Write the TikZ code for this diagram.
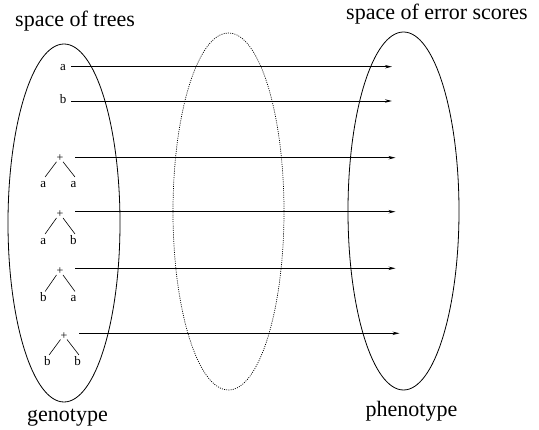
\documentclass[tikz,border=0pt]{standalone}
\usepackage{fontspec}
\setmainfont{Liberation Serif}
\usetikzlibrary{arrows.meta}
\begin{document}
\begin{tikzpicture}[x=1pt,y=-1pt,
  big/.style={font=\fontsize{22}{22}\selectfont, inner sep=0pt},
  leaf/.style={font=\fontsize{13}{13}\selectfont, inner sep=0pt, anchor=base},
  plus/.style={font=\fontsize{12}{12}\selectfont, inner sep=0pt},
  edge/.style={line width=0.6pt},
  map/.style={line width=0.8pt, -{Stealth[length=7pt,width=3.4pt]}},
  space/.style={draw, line width=0.8pt}]
\useasboundingbox (0,0) rectangle (539,430);
% spaces
\draw[space] (64,223) ellipse [x radius=56, y radius=179];
\draw[space, dash pattern=on 1pt off 1.2pt, line width=0.7pt] (228.5,211.5) ellipse [x radius=55.5, y radius=178.5];
\draw[space] (403.5,211) ellipse [x radius=55.5, y radius=179];
% labels
\node[big, anchor=base west] (ltrees) at (15,27) {space of trees};
\node[big, anchor=base west] (lscores) at (346,20) {space of error scores};
\node[big, anchor=base] (lgeno) at (67.5,421.5) {genotype};
\node[big, anchor=base] (lpheno) at (411.5,417) {phenotype};
% terminals
\node[leaf] (ta) at (63,70.7) {a};
\node[leaf] (tb) at (63,104) {b};
% tree 1
\node[plus] (p1) at (60,158.3) {+};
\node[leaf] (l1) at (43.3,187.5) {a};
\node[leaf] (r1) at (73.5,187.5) {a};
% tree 2
\node[plus] (p2) at (60,214.5) {+};
\node[leaf] (l2) at (43.3,244.5) {a};
\node[leaf] (r2) at (73.5,244.5) {b};
% tree 3
\node[plus] (p3) at (60,271.5) {+};
\node[leaf] (l3) at (43.3,302) {b};
\node[leaf] (r3) at (73.5,302) {a};
% tree 4
\node[plus] (p4) at (64,336) {+};
\node[leaf] (l4) at (47.3,365.5) {b};
\node[leaf] (r4) at (77.5,365.5) {b};
% tree edges
\foreach \i in {1,2,3,4}{
  \draw[edge] ([xshift=-3.5pt,yshift=-3.5pt]p\i.center) -- ([xshift=1.8pt,yshift=10.5pt]l\i.base);
  \draw[edge] ([xshift=3pt,yshift=-3.5pt]p\i.center) -- ([xshift=1.5pt,yshift=10.5pt]r\i.base);
}
% mapping arrows
\coordinate (sa) at (71,66.7);   \coordinate (ea) at (392,66.7);
\coordinate (sb) at (71,101);    \coordinate (eb) at (392,101);
\coordinate (s1) at (75,157.7);  \coordinate (e1) at (395.5,157.7);
\coordinate (s2) at (75,211.7);  \coordinate (e2) at (395.5,211.7);
\coordinate (s3) at (75,268.3);  \coordinate (e3) at (395.5,268.3);
\coordinate (s4) at (79,333.3);  \coordinate (e4) at (399.5,333.3);
\foreach \k in {a,b,1,2,3,4}{
  \draw[map] (s\k) -- (e\k);
}
\end{tikzpicture}
\end{document}
